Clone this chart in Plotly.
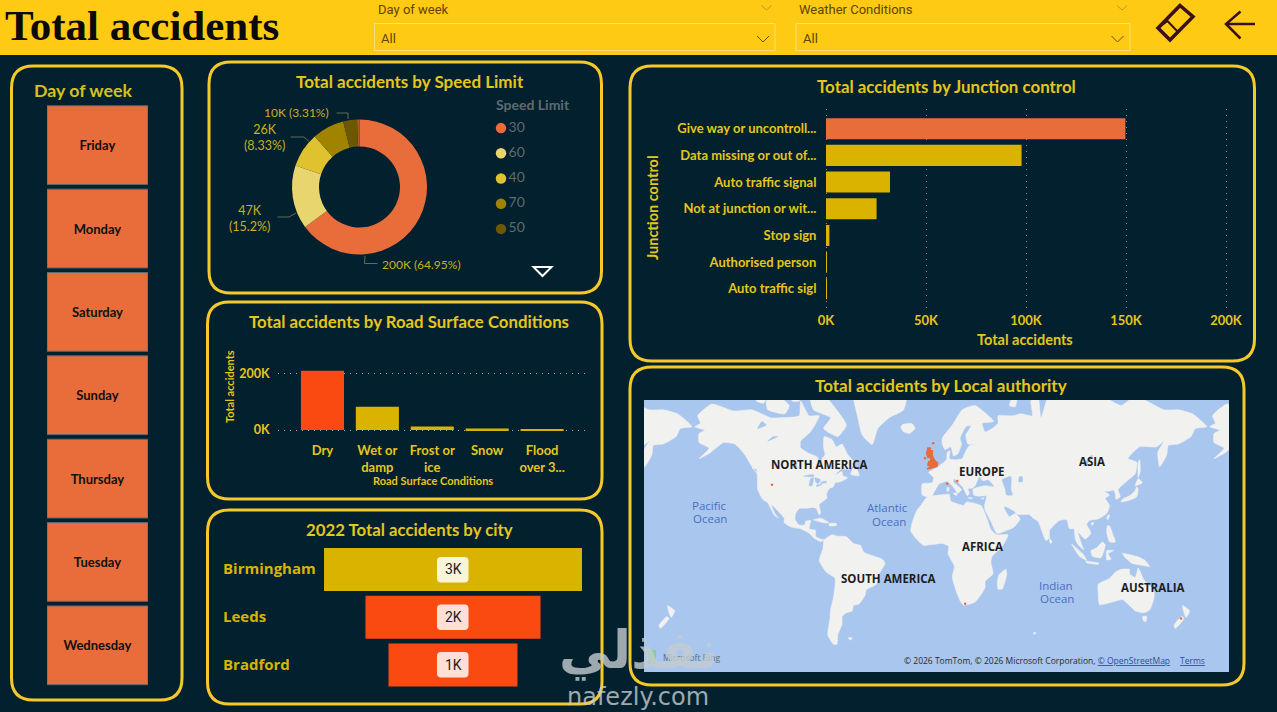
import numpy as np
import plotly.graph_objects as go

# ---------- data ----------
days = ["Friday", "Monday", "Saturday", "Sunday", "Thursday", "Tuesday", "Wednesday"]
day_tile = [1, 1, 1, 1, 1, 1, 1]

speed_limits = ["30", "60", "40", "70", "50", "20"]
speed_values = [200000, 46800, 25700, 23500, 10200, 1800]
legend_limits = ["30", "60", "40", "70", "50"]

surface = ["Dry", "Wet or<br>damp", "Frost or<br>ice", "Snow", "Flood<br>over 3..."]
surface_values = [209000, 82000, 12000, 5000, 1500]
surface_ticks = [0, 200000]
surface_ticktext = ["0K", "200K"]

cities = ["Birmingham", "Leeds", "Bradford"]
city_values = [2800, 1900, 1400]
city_labels = ["3K", "2K", "1K"]

junction = ["Give way or uncontroll...", "Data missing or out of...", "Auto traffic signal",
            "Not at junction or wit...", "Stop sign", "Authorised person", "Auto traffic sigl"]
junction_values = [149700, 97800, 32000, 25300, 1700, 400, 300]
junction_ticks = [0, 50000, 100000, 150000, 200000]
junction_ticktext = ["0K", "50K", "100K", "150K", "200K"]

# simplified land outlines, (lon, lat)
north_america = [(-168,65.5),(-164,66.5),(-166,68.5),(-156,71.3),(-141,69.7),(-128,70),(-115,68),(-108,68),(-95,68.5),(-94,72),(-88,68.5),(-81,68.5),(-87,64),(-94,61),(-94,58.7),(-88,56.5),(-82,55),(-82,52),(-79.5,51.3),(-79,54.5),(-77,56),(-78,59),(-77.5,62.5),(-72,61.5),(-69,59),(-65,60),(-61,56),(-56,52.5),(-60,50),(-66,50),(-70,47),(-65,49),(-64.5,47),(-61,46),(-66,44),(-70,43.5),(-71,41.5),(-74,40.5),(-76,37),(-75.5,35.3),(-81,31.5),(-80,26.5),(-81,25),(-83,29),(-85,29.7),(-90,29.2),(-95,29),(-97.5,26),(-97.8,22),(-95,18.5),(-91,18.7),(-90.5,21),(-87,21.5),(-88,16),(-83.5,15),(-83.5,11),(-80,9),(-77.5,8.5),(-80,7.3),(-85,10),(-88,13),(-94,16),(-100,17),(-105.5,20),(-105.5,23),(-112,29.5),(-114.7,31.5),(-112,26),(-109.5,23),(-112.5,25),(-117,32.5),(-120.5,34.5),(-124,40),(-124.5,48),(-128,51),(-133,56),(-140,60),(-148,60.5),(-152,59),(-158,56.5),(-165,54.5),(-158,58.5),(-165,60.5),(-165,63.5),(-161,64.5)]
greenland = [(-44,59.8),(-51,63),(-54,68),(-57,74),(-20,74),(-22,70),(-32,68),(-40,65)]
iceland = [(-24,65.5),(-22,64),(-18,63.5),(-14,65),(-16,66.4),(-22,66.3)]
baffin = [(-62,66),(-68,62.5),(-78,65),(-73,68),(-85,70),(-88,74),(-80,74),(-70,70.5)]
victoria = [(-117,70),(-105,69),(-102,71),(-110,73),(-118,72)]
banks = [(-125,72),(-120,71.5),(-116,74),(-124,74)]
somerset = [(-100,74),(-92,74),(-95,72),(-100,72)]
south_america = [(-77.5,8.5),(-72,12),(-68,11),(-62,10.7),(-57,6),(-52,4.5),(-50,0),(-44,-2.5),(-37,-5),(-35,-8),(-39,-15),(-41,-22),(-48,-25.5),(-49,-29),(-53,-34),(-57,-35),(-58,-38),(-62,-39),(-65,-41),(-65,-45),(-68,-50),(-68.5,-54),(-71,-54),(-75,-50),(-73.5,-42),(-73,-37),(-71,-30),(-70,-18),(-76,-14),(-81,-6),(-80,-2),(-78.5,2)]
africa = [(-5.5,35.8),(3,37),(10,37.3),(11,33.5),(20,31),(22,33),(32,31),(34,28),(37,21),(39,15.5),(43,12),(51,12),(47,4),(40,-3),(39,-7),(40.5,-15),(35,-20),(35,-24),(32.5,-28),(28,-33),(20,-34.8),(18,-33),(15,-27),(12,-17),(13.5,-10),(9,-1),(9.5,4),(5,6),(-4,5),(-8,4.5),(-13,9),(-17,14.5),(-16,20),(-13,27.5),(-9.5,31.5)]
madagascar = [(49.5,-12),(50,-16),(47,-25),(44,-25),(43.5,-21),(44.5,-16)]
eurasia = [(-9,37),(-9,43),(-2,43.5),(-1,46),(-4.5,48.5),(2,51),(4,52),(8,54),(8.5,57),(10.5,57.5),(10,54.5),(14,54),(19,54.5),(21,57),(24,59.5),(30,60),(23,60),(21.5,63),(25,65.7),(22,65.7),(17.5,62),(18.5,60),(16,56.5),(13,55.5),(11,59),(7,58),(5,60),(5,62),(12,66),(19,70),(28,71),(41,67),(33,66.5),(35,64),(40,65),(44,66.5),(44,68.5),(54,68.5),(60,69),(68,68.5),(67,72),(72,73),(74,68),(80,73.5),(105,77),(113,74),(130,71),(140,73),(160,70),(170,70),(180,69),(190,65.5),(182,65),(179,62.5),(170,60),(163,59.5),(162,56),(157,51),(155.7,57),(160,61),(155,59),(143,59),(135,54.5),(141,53),(140,48),(132,43),(128,40),(129.5,36),(126.5,34.5),(126,37.5),(125,39.7),(121,39),(118,39),(122,37),(119,35),(122,31),(120,26),(114,22.5),(108,21.5),(106,19),(109,13),(105,9),(100,13.5),(103,4),(104,1.5),(100,5),(98,9),(97,16),(94,16),(92,22),(87,21.5),(80,15),(80,10),(77.5,8),(73,19),(72,21),(68,23.5),(66,25.2),(57,25.5),(56,27),(50,30),(48,30),(50,26.5),(52,24),(56,26),(59.5,22.5),(55,17),(45,13),(43,13),(39,21),(35,28),(34.5,31),(36,36.5),(30,36.3),(27,37),(26.5,40),(29,41),(35,42),(41.5,41.5),(37,45),(33.5,44.5),(31,46.5),(28,42),(26,40.7),(23,40.5),(24,38),(22.5,36.5),(19.5,41),(13.5,45.5),(12.5,44),(18.5,40),(16,38),(12,42),(8.5,44.3),(3,43),(0,39.5),(-2,36.7),(-5.5,36)]
novaya = [(52,71),(56,70.7),(58,73),(68,77),(60,76)]
honshu = [(130,33),(136,34),(141,36),(142,40),(141,41.5),(139.5,39),(136,36.5),(131,34.5)]
hokkaido = [(140,42),(145,43.5),(142,45.5)]
sakhalin = [(142,46),(143.5,49),(143,54),(142,53)]
philippines = [(120.5,18),(122,18),(124,13),(126,7),(122,7),(120,14)]
borneo = [(109,1),(113,3),(117,7),(119,5),(116,-4),(110,-3)]
sumatra = [(95.5,5.5),(104,-2),(106,-6),(101,-3)]
java = [(105.5,-6.5),(114.5,-7.8),(114,-8.7),(106,-7.5)]
sulawesi = [(120,1),(125,1),(121,-1),(123,-5),(120,-5.5)]
new_guinea = [(131,-1),(141,-3),(147,-6),(150,-10),(143,-9),(138,-8),(133,-4)]
taiwan = [(121,25),(122,25),(120.8,22),(120,23)]
hainan = [(109,20),(111,20),(110,18.3)]
sri_lanka = [(80,9.5),(82,7),(80.5,6)]
australia = [(114,-22),(122,-18),(126,-14),(130,-12),(136,-12),(136,-15),(140,-17.5),(142,-11),(146,-19),(153,-26),(153,-31),(150,-37.5),(146,-39),(140,-38),(136,-35),(131,-31.5),(124,-33),(115,-34.5),(114,-27)]
tasmania = [(145,-41),(148,-41),(147.5,-43.5),(146,-43.5)]
nz_north = [(173,-35),(178,-38),(175.5,-41.5),(174,-39)]
nz_south = [(172.5,-41),(174,-42),(171,-45),(168,-47),(167,-45.5)]
cuba = [(-85,22),(-80,23),(-74,20),(-78,20)]
hispaniola = [(-74,19.5),(-69,19.5),(-69,18.3),(-74,18)]
newfoundland = [(-59,47.7),(-53,47),(-56,51.5)]
vancouver = [(-128,50.5),(-124,48.5),(-125,50)]
devon = [(-92,76),(-80,76),(-80,74.6),(-92,74.6)]
sicily = [(12.5,38),(15.5,38),(15,36.7)]
sardinia = [(8.3,41),(9.7,41),(9.5,39),(8.5,39)]
crete = [(23.5,35.5),(26,35.3),(26,35),(23.5,35)]
cyprus = [(32.3,35),(34.5,35.6),(33.5,34.6)]
falklands = [(-61,-51.3),(-58,-51.3),(-59,-52.3)]
kerguelen = [(68.7,-49),(70.5,-49),(69.5,-49.8)]
land_shapes = [north_america, greenland, iceland, baffin, victoria, banks, somerset, devon, south_america,
               africa, madagascar, eurasia, novaya, honshu, hokkaido, sakhalin, philippines, borneo,
               sumatra, java, sulawesi, new_guinea, taiwan, hainan, sri_lanka, australia, tasmania,
               nz_north, nz_south, cuba, hispaniola, newfoundland, vancouver, sicily,
               sardinia, crete, cyprus, falklands, kerguelen]
caspian = [(47,45),(53,46.5),(53,40),(54,37),(50,37),(49,40.5)]
superior = [(-92,46.7),(-85,47.5),(-85,46.5),(-88,46.5)]
michigan = [(-88,42),(-86,42),(-85,46),(-87,45.5)]
huron = [(-84,46),(-80,45),(-82,43),(-83.5,44)]
erie = [(-83,41.5),(-79,42.7),(-79,43),(-83,42.2)]
ontario = [(-80,43.3),(-76,43.5),(-76,44.2),(-79.5,43.9)]
great_slave = [(-117,61),(-110,62.5),(-113,62.5)]
great_bear = [(-124,65),(-118,66),(-121,67)]
winnipeg = [(-98.5,50.5),(-96.5,50.5),(-98,53.5),(-99.5,53)]
baikal = [(103.7,51.5),(105,51.5),(110,55.7),(109,55.7)]
aral = [(58.5,44),(61,44),(61,46.5),(59,46.5)]
water_shapes = [caspian, superior, michigan, huron, erie, ontario, great_slave, great_bear, winnipeg, baikal, aral]
britain = [(-5.5,50),(1.3,51.2),(1.7,52.7),(0,53.5),(-1.5,55),(-2,56),(-2,57.6),(-4,57.7),(-3,58.6),(-5,58.6),(-6,56.5),(-5,55),(-3,54.8),(-3,53.4),(-4.5,53.2),(-4.5,52.2),(-5,51.7),(-3,51.3)]
authority_shapes = [britain]
authority_lon = [-114, 15.5, 8.5, 21, 172, -1.3, -7]
authority_lat = [42.5, 44.4, 43, -34, -42, 60.3, 54.7]

# ---------- palette ----------
BG = "#02202E"
HEAD = "#FFCA14"
LINE = "#F6C92B"
YEL = "#E5C61C"
YEL2 = "#D6C01C"
ORANGE = "#E96C3B"
GOLD = "#D9B300"
RED = "#FA4A12"
DARK = "#3A0F1E"
OCEAN = "#A9C6EE"
LAND = "#F1F1EF"
SPEED_COL = [ORANGE, "#E8D56D", "#E0C22F", "#A08400", "#6B5800", "#A85A2A"]
TITLE_FONT = "Lato, Roboto, sans-serif"
DOT = "1px,5px"
W, H = 1277, 712


def X(p):
    return p / W


def Y(p):
    return 1 - p / H


def merc(lat):
    return np.log(np.tan(np.radians(45 + np.asarray(lat, dtype=float) / 2)))


def outline(polys):
    xs, ys = [], []
    for off in (-360, 0, 360):
        for poly in polys:
            pts = list(poly) + [poly[0]]
            xs += [p[0] + off for p in pts] + [None]
            ys += [float(merc(p[1])) for p in pts] + [None]
    return xs, ys


def rrect(x0, y0, x1, y1, r):
    a, b, c, d = X(x0), X(x1), Y(y0), Y(y1)
    rx, ry = r / W, r / H
    return (f"M{a+rx},{c} L{b-rx},{c} Q{b},{c} {b},{c-ry} L{b},{d+ry} Q{b},{d} {b-rx},{d} "
            f"L{a+rx},{d} Q{a},{d} {a},{d+ry} L{a},{c-ry} Q{a},{c} {a+rx},{c} Z")


def poly_path(pts, close=False):
    s = "M" + " L".join(f"{X(x)},{Y(y)}" for x, y in pts)
    return s + (" Z" if close else "")


shapes, notes = [], []


def add_path(pts, color, width=1, close=False, fill=None, layer="above"):
    shapes.append(dict(type="path", path=poly_path(pts, close), xref="paper", yref="paper",
                       line=dict(color=color, width=width),
                       fillcolor=fill if fill else "rgba(0,0,0,0)", layer=layer))


def text(x, y, s, size, color, family=TITLE_FONT, bold=False, anchor="center", angle=0, opacity=1):
    notes.append(dict(x=X(x), y=Y(y), xref="paper", yref="paper", text=f"<b>{s}</b>" if bold else s,
                      showarrow=False, xanchor=anchor, yanchor="middle", textangle=angle, opacity=opacity,
                      font=dict(size=size, color=color, family=family)))


def dom(a, b):
    return [a / W, b / W]


def vdom(top, bottom):
    return [1 - bottom / H, 1 - top / H]


# ---------- frame ----------
shapes.append(dict(type="rect", xref="paper", yref="paper", x0=0, x1=1, y0=Y(55), y1=1,
                   fillcolor=HEAD, line=dict(width=0), layer="below"))
shapes.append(dict(type="rect", xref="paper", yref="paper", x0=X(644), x1=X(1229), y0=Y(672), y1=Y(400),
                   fillcolor=OCEAN, line=dict(width=0), layer="below"))
for box in [(11.5, 66, 182, 700), (209, 62, 601.5, 293), (207.5, 302, 602, 499),
            (207.5, 510, 602, 704), (630, 66, 1254.5, 361), (630, 367, 1244, 685)]:
    shapes.append(dict(type="path", path=rrect(*box, 22), xref="paper", yref="paper",
                       line=dict(color=LINE, width=3), fillcolor="rgba(0,0,0,0)", layer="below"))

# header
text(3, 25, "Total accidents", 43, "#0A0A0A", "Liberation Serif", True, "left")
for x0, x1, label, c_top, c_low in [(374.5, 775, "Day of week", 766.5, 763),
                                    (796, 1130, "Weather Conditions", 1122, 1117.5)]:
    shapes.append(dict(type="rect", xref="paper", yref="paper", x0=X(x0), x1=X(x1), y0=Y(50.5), y1=Y(23.5),
                       line=dict(color="#F7DE7C", width=1), fillcolor="rgba(0,0,0,0)"))
    text(x0 + 1, 9.5, label, 13, "#5E4300", "Roboto", False, "left")
    text(x0 + 4.5, 38.5, "All", 13, "#5E4300", "Roboto", False, "left")
    add_path([(c_top - 5, 5.5), (c_top, 10), (c_top + 5, 5.5)], "#C09A18")
    add_path([(c_low - 6, 36), (c_low, 42), (c_low + 6, 36)], "#6B4B0A")
add_path([(1180, 5.5), (1193, 16.7), (1170, 40), (1158, 28)], DARK, 3.5, True)
add_path([(1167.5, 21), (1178, 32), (1170, 40), (1158, 28)], DARK, 2, True)
add_path([(1255, 24), (1226, 24)], DARK, 2.5)
add_path([(1240.5, 11.5), (1226, 24), (1240.5, 38.5)], DARK, 2.5)

# panel titles
text(83, 90, "Day of week", 17.8, YEL2, bold=True)
text(409.5, 81.5, "Total accidents by Speed Limit", 17, YEL, bold=True)
text(409, 321, "Total accidents by Road Surface Conditions", 16.8, YEL, bold=True)
text(409, 529, "2022 Total accidents by city", 16.8, YEL, bold=True)
text(946, 86, "Total accidents by Junction control", 16.9, YEL, bold=True)
text(940.5, 385.5, "Total accidents by Local authority", 17, YEL, bold=True)

# donut labels and leader lines
LBL = "#C9B21F"
text(380, 264, "200K (64.95%)", 12, LBL, anchor="left")
text(272, 218, "47K<br>(15.2%)", 12.5, LBL, anchor="right")
text(287, 138, "26K<br>(8.33%)", 12.5, LBL, anchor="right")
text(331, 113, "10K (3.31%)", 12, LBL, anchor="right")
for pts in [[(365, 256), (364.5, 263.5), (377.5, 263.5)], [(277.5, 217), (289, 217), (296, 213)],
            [(290.5, 137), (304, 137), (309, 141.5)], [(336.5, 113), (348, 113), (348, 119)]]:
    add_path(pts, "#5E6E55")
text(494, 104.5, "Speed Limit", 14, "#5F6B6F", bold=True, anchor="left")
add_path([(533.5, 267), (551.5, 267), (542.5, 276)], "#FFFFFF", 2, True)

# axis captions
text(229, 387, "Total accidents", 11, YEL, bold=True, angle=-90)
text(433, 480, "Road Surface Conditions", 11, YEL, bold=True)
text(1025, 339, "Total accidents", 14.5, YEL, bold=True)
text(652, 208, "Junction control", 14.5, YEL, bold=True, angle=-90)

# funnel labels
for name, value_label, top, cream in zip(cities, city_labels, [557, 604.5, 652],
                                         ["rgba(255,255,255,0.85)", "rgba(255,255,255,0.83)", "rgba(255,255,255,0.83)"]):
    shapes.append(dict(type="path", path=rrect(437, top, 468.5, top + 25.5, 4), xref="paper", yref="paper",
                       fillcolor=cream, line=dict(width=0)))
    notes.append(dict(x=0, y=name, xref="x4", yref="y4", text=value_label, showarrow=False,
                      font=dict(size=14, color="#222222", family="Roboto")))
    notes.append(dict(x=X(221), y=name, xref="paper", yref="y4", text=f"<b>{name}</b>", showarrow=False,
                      xanchor="left", yshift=1, font=dict(size=15, color=GOLD, family="Open Sans")))

# map labels
for x, y, s in [(818.5, 465, "NORTH AMERICA"), (982, 471, "EUROPE"), (1092, 461, "ASIA"), (982.5, 546.5, "AFRICA"),
                (888, 578.5, "SOUTH AMERICA"), (1152, 587.5, "AUSTRALIA")]:
    text(x, y, s, 11.5, "#1E1E1E", "Open Sans", True)
for x, y, s in [(709, 505, "Pacific"), (710, 518, "Ocean"), (887.5, 507, "Atlantic"), (889, 521, "Ocean"),
                (1056, 585, "Indian"), (1056.5, 598, "Ocean")]:
    text(x, y, s, 11.5, "#4A6FC0", "Open Sans")
LINK = "#2F4F8F"
text(1172, 660, f"© 2026 TomTom, © 2026 Microsoft Corporation, <span style='color:{LINK}'><u>© OpenStreetMap</u></span>",
     8.5, "#2A2A2A", "Open Sans", anchor="right")
text(1178, 660, f"<span style='color:{LINK}'><u>Terms</u></span>", 8.5, "#2A2A2A", "Open Sans", anchor="left")
text(661, 657, "Microsoft Bing", 8.5, "#5A6A7A", "Open Sans", anchor="left")
shapes.append(dict(type="rect", xref="paper", yref="paper", x0=X(648), x1=X(656), y0=Y(664), y1=Y(650),
                   fillcolor="#8CC8A0", line=dict(width=0)))

# watermark seen across the reference
text(638, 650, "نفذلي", 52, "#C4CCD0", "DejaVu Sans", True, opacity=0.8)
text(638, 697, "nafezly.com", 24, "#C4CCD0", "DejaVu Sans", opacity=0.8)

# ---------- traces ----------
fig = go.Figure()

fig.add_trace(go.Bar(y=days, x=day_tile, orientation="h", width=0.945,
                     marker=dict(color=ORANGE, line=dict(color="#5A6A6E", width=1)),
                     text=[f"<b>{d}</b>" for d in days], textposition="inside", insidetextanchor="middle",
                     textangle=0, constraintext="none",
                     textfont=dict(size=13, color="#111111", family=TITLE_FONT),
                     xaxis="x", yaxis="y", showlegend=False, hoverinfo="skip"))

fig.add_trace(go.Pie(labels=speed_limits, values=speed_values, hole=0.6, sort=False, direction="clockwise",
                     rotation=0, textinfo="none", domain=dict(x=dom(292, 427), y=vdom(119.5, 254.5)),
                     marker=dict(colors=SPEED_COL, line=dict(width=0)), showlegend=False))

fig.add_trace(go.Scatter(x=[0] * len(legend_limits), y=legend_limits, mode="markers+text", text=legend_limits,
                         textposition="middle right", marker=dict(size=10.5, color=SPEED_COL[:5]),
                         textfont=dict(size=14, color="#5F6B6F", family=TITLE_FONT),
                         xaxis="x2", yaxis="y2", showlegend=False))

fig.add_trace(go.Bar(x=surface, y=surface_values, width=0.785, marker=dict(color=[RED, GOLD, GOLD, GOLD, GOLD], line=dict(width=0)),
                     xaxis="x3", yaxis="y3", showlegend=False))

fig.add_trace(go.Funnel(x=city_values, y=cities, orientation="h", textinfo="none",
                        marker=dict(color=[GOLD, RED, RED], line=dict(width=0)), connector=dict(visible=False),
                        xaxis="x4", yaxis="y4", showlegend=False))

fig.add_trace(go.Bar(y=junction, x=junction_values, orientation="h", width=0.79,
                     marker=dict(color=[ORANGE] + [GOLD] * 6, line=dict(width=0)),
                     xaxis="x5", yaxis="y5", showlegend=False))

lx, ly = outline(land_shapes)
fig.add_trace(go.Scatter(x=lx, y=ly, mode="lines", fill="toself", fillcolor=LAND,
                         line=dict(color=LAND, width=0.5, shape="spline", smoothing=0.5),
                         xaxis="x6", yaxis="y6", showlegend=False, hoverinfo="skip"))
wx, wy = outline(water_shapes)
fig.add_trace(go.Scatter(x=wx, y=wy, mode="lines", fill="toself", fillcolor=OCEAN,
                         line=dict(color=OCEAN, width=0.5, shape="spline", smoothing=0.5),
                         xaxis="x6", yaxis="y6", showlegend=False, hoverinfo="skip"))
ax, ay = outline(authority_shapes)
fig.add_trace(go.Scatter(x=ax, y=ay, mode="lines", fill="toself", fillcolor=ORANGE, line=dict(color=ORANGE, width=1.5),
                         xaxis="x6", yaxis="y6", showlegend=False, hoverinfo="skip"))
fig.add_trace(go.Scatter(x=authority_lon, y=merc(authority_lat), mode="markers", marker=dict(size=2.5, color=ORANGE),
                         xaxis="x6", yaxis="y6", showlegend=False, hoverinfo="skip"))

hidden = dict(visible=False, fixedrange=True)
fig.update_layout(
    template="none",
    width=W, height=H, autosize=False, margin=dict(l=0, r=0, t=0, b=0, pad=0),
    paper_bgcolor=BG, plot_bgcolor="rgba(0,0,0,0)", showlegend=False,
    shapes=shapes, annotations=notes, funnelgap=0.1,
    xaxis=dict(domain=dom(47, 148), range=[0, 1], **hidden),
    yaxis=dict(domain=vdom(103.5, 687), range=[6.5, -0.5], type="category", categoryorder="array",
               categoryarray=days, **hidden),
    xaxis2=dict(domain=dom(495, 570), range=[-6, 69], **hidden),
    yaxis2=dict(domain=vdom(115.5, 241.5), range=[4.5, -0.5], type="category", categoryorder="array",
                categoryarray=legend_limits, **hidden),
    xaxis3=dict(domain=dom(278, 586), range=[-0.81, 4.8], type="category", categoryorder="array", categoryarray=surface,
                showgrid=False, zeroline=False, showline=False, ticks="outside", ticklen=3, tickcolor="rgba(0,0,0,0)",
                tickfont=dict(size=13, color=YEL, family=TITLE_FONT, weight="bold"), tickangle=0, fixedrange=True, anchor="y3"),
    yaxis3=dict(domain=vdom(370, 435), range=[-17600, 211600], tickvals=surface_ticks, ticktext=surface_ticktext,
                showgrid=True, griddash=DOT, gridcolor="#A0B0B0", gridwidth=1, zeroline=False, showline=False,
                ticks="outside", ticklen=5, tickcolor="rgba(0,0,0,0)",
                tickfont=dict(size=12.5, color=YEL, family=TITLE_FONT, weight="bold"), fixedrange=True, anchor="x3"),
    xaxis4=dict(domain=dom(323, 583), range=[-1411, 1411], **hidden),
    yaxis4=dict(domain=vdom(545.6, 688.9), range=[2.5, -0.5], type="category", categoryorder="array",
                categoryarray=cities, **hidden),
    xaxis5=dict(domain=dom(822, 1228), range=[-2000, 201000], tickvals=junction_ticks, ticktext=junction_ticktext,
                showgrid=True, griddash=DOT, gridcolor="#7F93A0", gridwidth=1, zeroline=False, showline=False,
                ticks="outside", ticklen=0, tickcolor="rgba(0,0,0,0)", ticklabelstandoff=-3,
                tickfont=dict(size=13, color=YEL, family=TITLE_FONT, weight="bold"), fixedrange=True, anchor="y5"),
    yaxis5=dict(domain=vdom(109, 311.7), range=[6.86, -0.74], type="category", categoryorder="array",
                categoryarray=junction, showgrid=False, zeroline=False, showline=False,
                ticks="outside", ticklen=2, tickcolor="rgba(0,0,0,0)",
                tickfont=dict(size=13, color=YEL, family=TITLE_FONT, weight="bold"), fixedrange=True, anchor="x5"),
    xaxis6=dict(domain=dom(644, 1229), range=[-203.5, 205.5], **hidden),
    yaxis6=dict(domain=vdom(400, 672), range=[-1.463, 1.854], **hidden),
)

fig.write_html("out.html", config=dict(displayModeBar=False),
               post_script="document.body.style.margin='0';document.body.style.overflow='hidden';")
